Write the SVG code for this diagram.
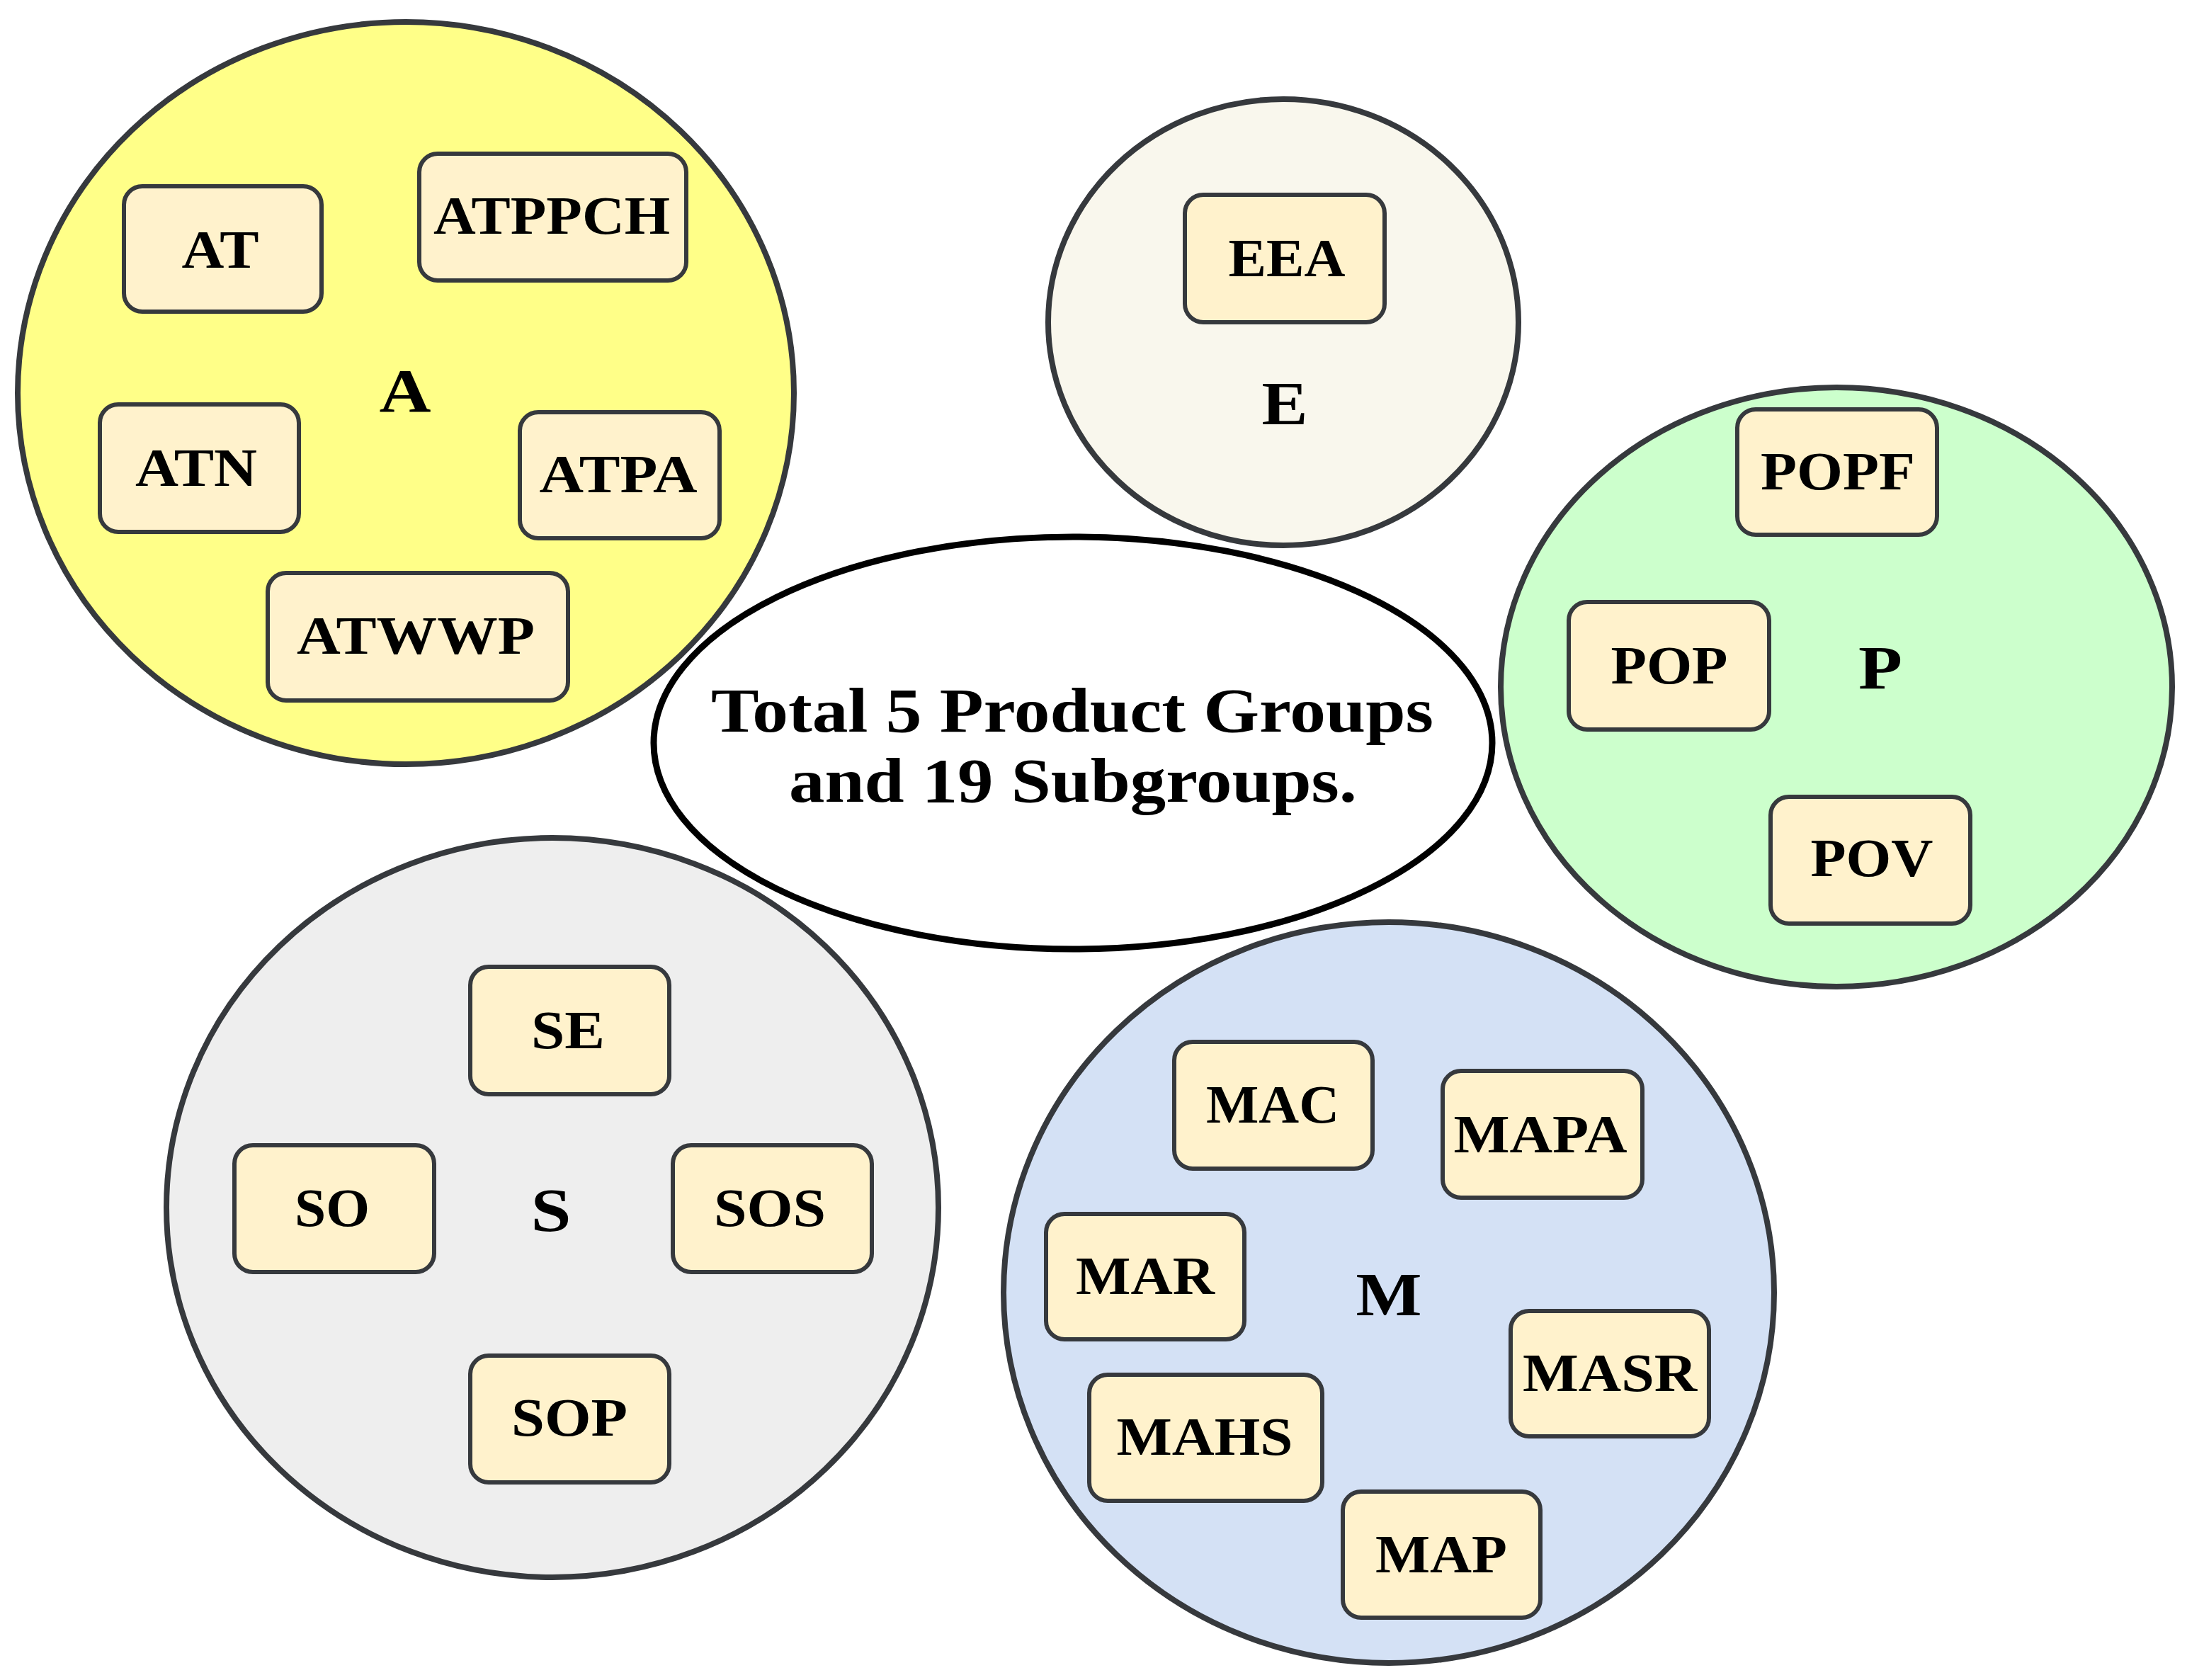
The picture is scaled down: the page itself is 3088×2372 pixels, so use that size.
<svg xmlns="http://www.w3.org/2000/svg" width="3088" height="2372" viewBox="0 0 3088 2372">
<style>
.grp{stroke:#36393d;stroke-width:8}
.box{fill:#fff2cc;stroke:#36393d;stroke-width:6}
.t{font-family:"Liberation Serif","Times New Roman",serif;font-weight:bold;font-size:76px;fill:#000;text-anchor:middle}
.big{font-size:86px}
.ctr{font-size:88px}
</style>
<rect x="0" y="0" width="3088" height="2372" fill="#ffffff"/>
<g id="center">
<ellipse cx="1515" cy="1049" rx="592" ry="291" fill="#ffffff" stroke="#000" stroke-width="9"/>
<text class="t ctr" x="1514" y="1033" textLength="1020" lengthAdjust="spacingAndGlyphs">Total 5 Product Groups</text>
<text class="t ctr" x="1515" y="1132" textLength="802" lengthAdjust="spacingAndGlyphs">and 19 Subgroups.</text>
</g>
<g id="connectors"/>
<g id="group-A">
<ellipse class="grp" cx="573" cy="555" rx="548" ry="524" fill="#ffff88"/>
<text class="t big" x="572" y="581" textLength="73" lengthAdjust="spacingAndGlyphs">A</text>
<g id="AT"><rect class="box" x="175" y="263" width="279" height="177" rx="26"/><text class="t" x="311" y="378" textLength="109" lengthAdjust="spacingAndGlyphs">AT</text></g>
<g id="ATPPCH"><rect class="box" x="592" y="217" width="377" height="179" rx="26"/><text class="t" x="779" y="330" textLength="334" lengthAdjust="spacingAndGlyphs">ATPPCH</text></g>
<g id="ATN"><rect class="box" x="141" y="571" width="281" height="180" rx="26"/><text class="t" x="277" y="686" textLength="172" lengthAdjust="spacingAndGlyphs">ATN</text></g>
<g id="ATPA"><rect class="box" x="734" y="582" width="282" height="178" rx="26"/><text class="t" x="873" y="695" textLength="223" lengthAdjust="spacingAndGlyphs">ATPA</text></g>
<g id="ATWWP"><rect class="box" x="378" y="809" width="424" height="180" rx="26"/><text class="t" x="587" y="923" textLength="336" lengthAdjust="spacingAndGlyphs">ATWWP</text></g>
</g>
<g id="group-E">
<ellipse class="grp" cx="1812" cy="455" rx="332" ry="315" fill="#f9f7ed"/>
<text class="t big" x="1814" y="599" textLength="65" lengthAdjust="spacingAndGlyphs">E</text>
<g id="EEA"><rect class="box" x="1673" y="275" width="282" height="180" rx="26"/><text class="t" x="1817" y="390" textLength="165" lengthAdjust="spacingAndGlyphs">EEA</text></g>
</g>
<g id="group-P">
<ellipse class="grp" cx="2593" cy="970" rx="474" ry="423" fill="#ccffcc"/>
<text class="t big" x="2655" y="972" textLength="62" lengthAdjust="spacingAndGlyphs">P</text>
<g id="POPF"><rect class="box" x="2453" y="578" width="282" height="177" rx="26"/><text class="t" x="2595" y="691" textLength="218" lengthAdjust="spacingAndGlyphs">POPF</text></g>
<g id="POP"><rect class="box" x="2215" y="850" width="283" height="180" rx="26"/><text class="t" x="2357" y="965" textLength="165" lengthAdjust="spacingAndGlyphs">POP</text></g>
<g id="POV"><rect class="box" x="2500" y="1125" width="282" height="179" rx="26"/><text class="t" x="2643" y="1237" textLength="173" lengthAdjust="spacingAndGlyphs">POV</text></g>
</g>
<g id="group-S">
<ellipse class="grp" cx="780" cy="1705" rx="545" ry="522" fill="#eeeeee"/>
<text class="t big" x="778" y="1738" textLength="57" lengthAdjust="spacingAndGlyphs">S</text>
<g id="SE"><rect class="box" x="664" y="1365" width="281" height="180" rx="26"/><text class="t" x="802" y="1480" textLength="104" lengthAdjust="spacingAndGlyphs">SE</text></g>
<g id="SO"><rect class="box" x="331" y="1617" width="282" height="179" rx="26"/><text class="t" x="469" y="1731" textLength="106" lengthAdjust="spacingAndGlyphs">SO</text></g>
<g id="SOS"><rect class="box" x="950" y="1617" width="281" height="179" rx="26"/><text class="t" x="1087" y="1731" textLength="158" lengthAdjust="spacingAndGlyphs">SOS</text></g>
<g id="SOP"><rect class="box" x="664" y="1914" width="281" height="179" rx="26"/><text class="t" x="804" y="2027" textLength="164" lengthAdjust="spacingAndGlyphs">SOP</text></g>
</g>
<g id="group-M">
<ellipse class="grp" cx="1961" cy="1825" rx="544" ry="523" fill="#d4e1f5"/>
<text class="t big" x="1961" y="1857" textLength="93" lengthAdjust="spacingAndGlyphs">M</text>
<g id="MAC"><rect class="box" x="1658" y="1471" width="280" height="179" rx="26"/><text class="t" x="1797" y="1585" textLength="188" lengthAdjust="spacingAndGlyphs">MAC</text></g>
<g id="MAPA"><rect class="box" x="2037" y="1512" width="282" height="179" rx="26"/><text class="t" x="2175" y="1627" textLength="245" lengthAdjust="spacingAndGlyphs">MAPA</text></g>
<g id="MAR"><rect class="box" x="1477" y="1714" width="280" height="177" rx="26"/><text class="t" x="1617" y="1827" textLength="196" lengthAdjust="spacingAndGlyphs">MAR</text></g>
<g id="MASR"><rect class="box" x="2133" y="1851" width="280" height="177" rx="26"/><text class="t" x="2273" y="1964" textLength="246" lengthAdjust="spacingAndGlyphs">MASR</text></g>
<g id="MAHS"><rect class="box" x="1538" y="1941" width="329" height="178" rx="26"/><text class="t" x="1701" y="2054" textLength="249" lengthAdjust="spacingAndGlyphs">MAHS</text></g>
<g id="MAP"><rect class="box" x="1896" y="2106" width="279" height="178" rx="26"/><text class="t" x="2035" y="2220" textLength="186" lengthAdjust="spacingAndGlyphs">MAP</text></g>
</g>
</svg>
